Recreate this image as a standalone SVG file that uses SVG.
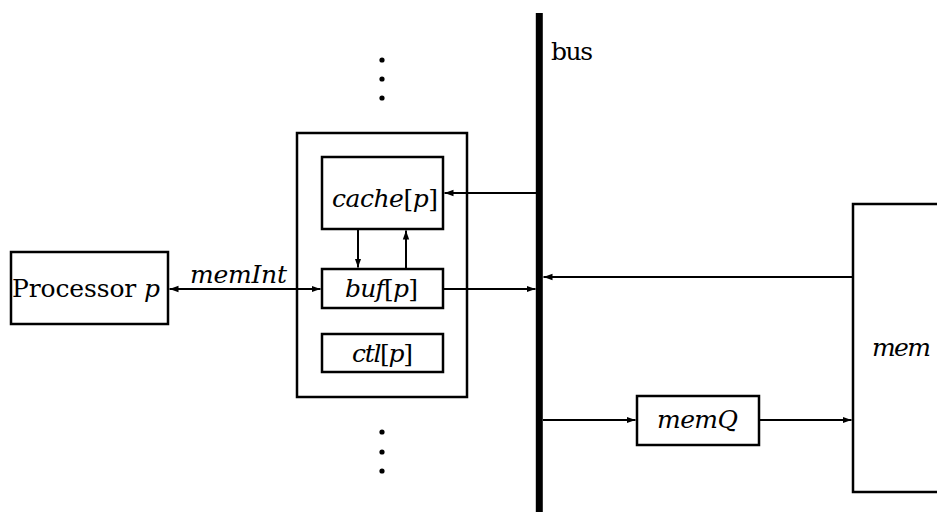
<svg xmlns="http://www.w3.org/2000/svg" width="937" height="512" viewBox="0 0 937 512">
<style>
.box{fill:none;stroke:#000;stroke-width:2.5}
.ln{fill:none;stroke:#000;stroke-width:2}
.t{font-family:'DejaVu Serif','Liberation Serif',serif;font-size:25px;fill:#000}
.i{font-style:italic}
</style>
<defs>
<marker id="ah" markerUnits="userSpaceOnUse" markerWidth="10" markerHeight="8" refX="9" refY="4" orient="auto-start-reverse">
<path d="M0,0.8 L9,4 L0,7.2 Z" fill="#000"/>
</marker>
</defs>
<rect width="937" height="512" fill="#fff"/>
<g id="bus">
<line x1="539.3" y1="13" x2="539.3" y2="512" stroke="#000" stroke-width="7"/>
<text class="t" x="551" y="60" textLength="42">bus</text>
</g>
<g id="dots">
<circle cx="382" cy="60" r="2.6"/><circle cx="382" cy="79" r="2.6"/><circle cx="382" cy="98" r="2.6"/>
<circle cx="382" cy="432" r="2.6"/><circle cx="382" cy="452" r="2.6"/><circle cx="382" cy="471" r="2.6"/>
</g>
<g id="processor">
<rect class="box" x="11" y="252" width="157" height="72"/>
<text class="t" x="12" y="297" textLength="148">Processor <tspan class="i">p</tspan></text>
</g>
<g id="container">
<rect class="box" x="297" y="133" width="170" height="264"/>
</g>
<g id="cache">
<rect class="box" x="322" y="157" width="121" height="72"/>
<text class="t" x="332" y="207" textLength="106"><tspan class="i">cache</tspan>[<tspan class="i">p</tspan>]</text>
</g>
<g id="buf">
<rect class="box" x="322" y="269" width="121" height="39"/>
<text class="t" x="345" y="297" textLength="73"><tspan class="i">buf</tspan>[<tspan class="i">p</tspan>]</text>
</g>
<g id="ctl">
<rect class="box" x="322" y="334" width="121" height="38"/>
<text class="t" x="352" y="362" textLength="61"><tspan class="i">ctl</tspan>[<tspan class="i">p</tspan>]</text>
</g>
<g id="memQ">
<rect class="box" x="637" y="396" width="122" height="49"/>
<text class="t i" x="657" y="428" textLength="81">memQ</text>
</g>
<g id="mem">
<rect class="box" x="853" y="204" width="90" height="288"/>
<text class="t i" x="872" y="356" textLength="59">mem</text>
</g>
<g id="connectors">
<line class="ln" x1="169.5" y1="289" x2="320.5" y2="289" marker-start="url(#ah)" marker-end="url(#ah)"/>
<text class="t i" x="190" y="283" textLength="97">memInt</text>
<line class="ln" x1="536" y1="193" x2="444.5" y2="193" marker-end="url(#ah)"/>
<line class="ln" x1="358" y1="230" x2="358" y2="267.5" stroke-width="2.5" marker-end="url(#ah)"/>
<line class="ln" x1="406" y1="268" x2="406" y2="230.5" stroke-width="2.5" marker-end="url(#ah)"/>
<line class="ln" x1="443" y1="289" x2="535.5" y2="289" marker-end="url(#ah)"/>
<line class="ln" x1="853" y1="277" x2="543.5" y2="277" marker-end="url(#ah)"/>
<line class="ln" x1="543" y1="420" x2="635.5" y2="420" marker-end="url(#ah)"/>
<line class="ln" x1="759" y1="420" x2="851.5" y2="420" marker-end="url(#ah)"/>
</g>
</svg>
